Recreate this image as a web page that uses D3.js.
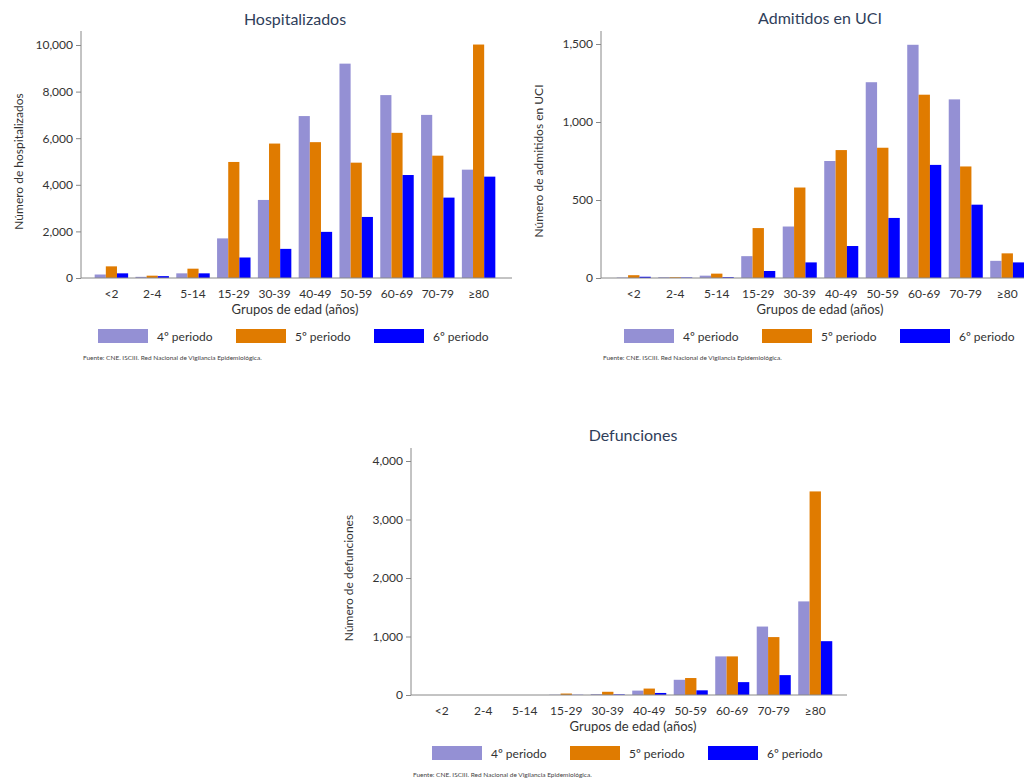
<!DOCTYPE html>
<html><head><meta charset="utf-8">
<script src="https://cdn.jsdelivr.net/npm/d3@7"></script>
<style>body{margin:0;background:#fff}text{font-family:Lato,"Open Sans",sans-serif}</style>
</head><body><svg id="c" width="1024" height="783"></svg>
<script>
const age_groups = ['<2','2-4','5-14','15-29','30-39','40-49','50-59','60-69','70-79','≥80'];
const periods = ['4º periodo','5º periodo','6º periodo'];
const colors = ['#9490d4','#e07b00','#0000ff'];

const hosp_p4 = [150,50,200,1700,3350,6950,9200,7850,7000,4650];
const hosp_p5 = [500,100,400,4980,5770,5830,4950,6230,5250,10020];
const hosp_p6 = [200,80,200,880,1250,1980,2620,4420,3450,4350];
const hosp_ticks = [0,2000,4000,6000,8000,10000];

const uci_p4 = [3,5,15,140,330,750,1255,1495,1145,110];
const uci_p5 = [18,5,28,320,580,820,835,1175,715,158];
const uci_p6 = [8,3,5,45,100,205,385,725,470,100];
const uci_ticks = [0,500,1000,1500];

const def_p4 = [0,0,0,5,15,75,260,660,1170,1600];
const def_p5 = [0,0,0,25,55,110,290,660,990,3480];
const def_p6 = [0,0,0,3,10,35,80,220,340,920];
const def_ticks = [0,1000,2000,3000,4000];

const svg = d3.select('#c');
const fmt = d3.format(',');

function drawChart(cfg) {
  const g = svg.append('g');
  const series = [cfg.p4, cfg.p5, cfg.p6];
  const x = d3.scaleBand().domain(age_groups).range([cfg.x0, cfg.x1]).paddingInner(0.18).paddingOuter(0.09);
  const xs = d3.scaleBand().domain([0,1,2]).range([0, x.bandwidth()]);
  const y = d3.scaleLinear().domain([0, cfg.tickMax]).range([cfg.base, cfg.top]);

  age_groups.forEach((a, i) => {
    series.forEach((s, j) => {
      g.append('rect').attr('x', x(a) + xs(j)).attr('width', xs.bandwidth())
        .attr('y', y(s[i])).attr('height', cfg.base - y(s[i])).attr('fill', colors[j]);
    });
  });

  const ya = g.append('g').attr('transform', `translate(${cfg.ax},0)`)
    .call(d3.axisLeft(y).tickValues(cfg.ticks).tickFormat(fmt).tickSize(5).tickSizeOuter(0));
  ya.select('.domain').remove();
  ya.selectAll('line').attr('stroke', '#888');
  ya.selectAll('text').attr('font-size', 12).attr('fill', '#333');
  g.append('line').attr('x1', cfg.ax).attr('x2', cfg.ax).attr('y1', cfg.base).attr('y2', cfg.axTop).attr('stroke', '#888');
  g.append('line').attr('x1', cfg.ax).attr('x2', cfg.axEnd).attr('y1', cfg.base).attr('y2', cfg.base).attr('stroke', '#888');

  age_groups.forEach(a => {
    g.append('text').attr('x', x(a) + x.bandwidth() / 2).attr('y', cfg.base + 20)
      .attr('text-anchor', 'middle').attr('font-size', 12).attr('fill', '#333').text(a);
  });
  g.append('text').attr('x', cfg.titleX).attr('y', cfg.top - 20).attr('text-anchor', 'middle')
    .attr('font-size', 16).attr('fill', '#2f3e5a').text(cfg.title);
  g.append('text').attr('x', cfg.titleX).attr('y', cfg.base + 36).attr('text-anchor', 'middle')
    .attr('font-size', 13).attr('fill', '#333').text('Grupos de edad (años)');
  g.append('text').attr('transform', `translate(${cfg.ax - 58},${(cfg.base + cfg.top) / 2}) rotate(-90)`)
    .attr('text-anchor', 'middle').attr('font-size', 12).attr('fill', '#333').text(cfg.ylabel);

  periods.forEach((p, j) => {
    const lx = cfg.legX + j * 138;
    g.append('rect').attr('x', lx).attr('y', cfg.base + 51).attr('width', 50).attr('height', 14).attr('fill', colors[j]);
    g.append('text').attr('x', lx + 59).attr('y', cfg.base + 63).attr('font-size', 12).attr('fill', '#333').text(p);
  });
  g.append('text').attr('x', cfg.ax + 2).attr('y', cfg.base + 82).attr('font-size', 6.5).attr('fill', '#444')
    .text('Fuente: CNE. ISCIII. Red Nacional de Vigilancia Epidemiológica.');
}

drawChart({title: 'Hospitalizados', ylabel: 'Número de hospitalizados', p4: hosp_p4, p5: hosp_p5, p6: hosp_p6,
  ticks: hosp_ticks, tickMax: 10000, ax: 81, axTop: 31, axEnd: 512, x0: 91, x1: 499, base: 278, top: 45,
  titleX: 295, legX: 98});
drawChart({title: 'Admitidos en UCI', ylabel: 'Número de admitidos en UCI', p4: uci_p4, p5: uci_p5, p6: uci_p6,
  ticks: uci_ticks, tickMax: 1500, ax: 601, axTop: 31, axEnd: 1024, x0: 613, x1: 1028, base: 278, top: 44,
  titleX: 820, legX: 624});
drawChart({title: 'Defunciones', ylabel: 'Número de defunciones', p4: def_p4, p5: def_p5, p6: def_p6,
  ticks: def_ticks, tickMax: 4000, ax: 411, axTop: 448, axEnd: 847, x0: 421, x1: 836, base: 695, top: 461,
  titleX: 633, legX: 432});
</script></body></html>
